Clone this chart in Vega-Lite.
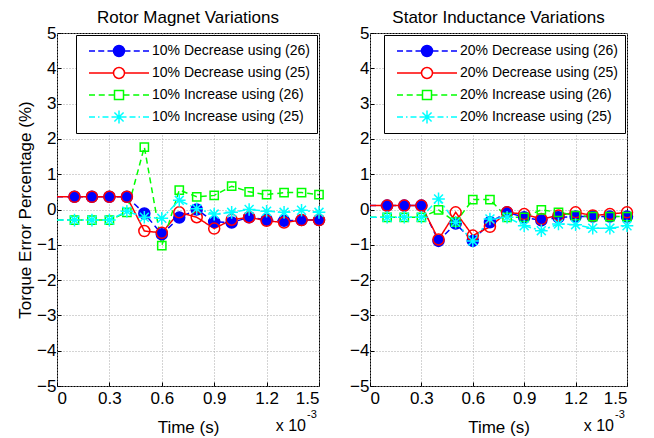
{
  "$schema": "https://vega.github.io/schema/vega-lite/v6.json",
  "background": "white",
  "padding": {"left": 16, "top": 8, "right": 5, "bottom": 0},
  "spacing": 20,
  "config": {
    "font": "Liberation Sans",
    "view": {"stroke": "black", "strokeWidth": 1},
    "axis": {
      "domain": false,
      "tickColor": "black",
      "tickSize": -4,
      "labelOverlap": false,
      "labelFont": "Liberation Sans",
      "labelFontSize": 17,
      "labelColor": "black",
      "titleFont": "Liberation Sans",
      "titleFontSize": 17,
      "titleFontWeight": "normal",
      "titleColor": "black",
      "gridColor": "#a8a8a8",
      "gridDash": [1, 2],
      "gridWidth": 1
    },
    "axisX": {"labelPadding": 8.5, "titlePadding": 13},
    "axisY": {"labelPadding": 5, "titlePadding": 2},
    "title": {"font": "Liberation Sans", "fontSize": 17, "fontWeight": "normal", "color": "black", "offset": -3, "frame": "group"},
    "legend": {
      "orient": "top-right",
      "offset": 2,
      "fillColor": "white",
      "strokeColor": "black",
      "padding": 7,
      "clipHeight": 18,
      "rowPadding": 4,
      "symbolOffset": 5,
      "labelOffset": 2,
      "labelFont": "Liberation Sans",
      "labelFontSize": 14,
      "labelColor": "black",
      "labelLimit": 400,
      "symbolStrokeWidth": 1.5,
      "symbolSize": 3600
    }
  },
  "datasets": {
    "left": [
      {"s":"10% Decrease using (26)","t":0,"v":0.36},{"s":"10% Decrease using (26)","t":0.1,"v":0.36},{"s":"10% Decrease using (26)","t":0.2,"v":0.36},{"s":"10% Decrease using (26)","t":0.3,"v":0.36},{"s":"10% Decrease using (26)","t":0.4,"v":0.36},{"s":"10% Decrease using (26)","t":0.5,"v":-0.11},{"s":"10% Decrease using (26)","t":0.6,"v":-0.70},{"s":"10% Decrease using (26)","t":0.7,"v":-0.23},{"s":"10% Decrease using (26)","t":0.8,"v":0.0},{"s":"10% Decrease using (26)","t":0.9,"v":-0.35},{"s":"10% Decrease using (26)","t":1.0,"v":-0.37},{"s":"10% Decrease using (26)","t":1.1,"v":-0.22},{"s":"10% Decrease using (26)","t":1.2,"v":-0.29},{"s":"10% Decrease using (26)","t":1.3,"v":-0.32},{"s":"10% Decrease using (26)","t":1.4,"v":-0.30},{"s":"10% Decrease using (26)","t":1.5,"v":-0.30},
      {"s":"10% Decrease using (25)","t":0,"v":0.36},{"s":"10% Decrease using (25)","t":0.1,"v":0.36},{"s":"10% Decrease using (25)","t":0.2,"v":0.36},{"s":"10% Decrease using (25)","t":0.3,"v":0.36},{"s":"10% Decrease using (25)","t":0.4,"v":0.36},{"s":"10% Decrease using (25)","t":0.5,"v":-0.61},{"s":"10% Decrease using (25)","t":0.6,"v":-0.66},{"s":"10% Decrease using (25)","t":0.7,"v":-0.08},{"s":"10% Decrease using (25)","t":0.8,"v":-0.22},{"s":"10% Decrease using (25)","t":0.9,"v":-0.54},{"s":"10% Decrease using (25)","t":1.0,"v":-0.29},{"s":"10% Decrease using (25)","t":1.1,"v":-0.22},{"s":"10% Decrease using (25)","t":1.2,"v":-0.32},{"s":"10% Decrease using (25)","t":1.3,"v":-0.37},{"s":"10% Decrease using (25)","t":1.4,"v":-0.30},{"s":"10% Decrease using (25)","t":1.5,"v":-0.30},
      {"s":"10% Increase using (26)","t":0,"v":-0.30},{"s":"10% Increase using (26)","t":0.1,"v":-0.30},{"s":"10% Increase using (26)","t":0.2,"v":-0.30},{"s":"10% Increase using (26)","t":0.3,"v":-0.30},{"s":"10% Increase using (26)","t":0.4,"v":-0.08},{"s":"10% Increase using (26)","t":0.5,"v":1.77},{"s":"10% Increase using (26)","t":0.6,"v":-1.02},{"s":"10% Increase using (26)","t":0.7,"v":0.55},{"s":"10% Increase using (26)","t":0.8,"v":0.36},{"s":"10% Increase using (26)","t":0.9,"v":0.40},{"s":"10% Increase using (26)","t":1.0,"v":0.66},{"s":"10% Increase using (26)","t":1.1,"v":0.50},{"s":"10% Increase using (26)","t":1.2,"v":0.42},{"s":"10% Increase using (26)","t":1.3,"v":0.48},{"s":"10% Increase using (26)","t":1.4,"v":0.48},{"s":"10% Increase using (26)","t":1.5,"v":0.42},
      {"s":"10% Increase using (25)","t":0,"v":-0.30},{"s":"10% Increase using (25)","t":0.1,"v":-0.30},{"s":"10% Increase using (25)","t":0.2,"v":-0.30},{"s":"10% Increase using (25)","t":0.3,"v":-0.30},{"s":"10% Increase using (25)","t":0.4,"v":-0.05},{"s":"10% Increase using (25)","t":0.5,"v":-0.22},{"s":"10% Increase using (25)","t":0.6,"v":-0.25},{"s":"10% Increase using (25)","t":0.7,"v":0.26},{"s":"10% Increase using (25)","t":0.8,"v":0.02},{"s":"10% Increase using (25)","t":0.9,"v":-0.13},{"s":"10% Increase using (25)","t":1.0,"v":-0.08},{"s":"10% Increase using (25)","t":1.1,"v":0.0},{"s":"10% Increase using (25)","t":1.2,"v":-0.05},{"s":"10% Increase using (25)","t":1.3,"v":-0.08},{"s":"10% Increase using (25)","t":1.4,"v":-0.02},{"s":"10% Increase using (25)","t":1.5,"v":-0.08}
    ],
    "right": [
      {"s":"20% Decrease using (26)","t":0,"v":0.11},{"s":"20% Decrease using (26)","t":0.1,"v":0.11},{"s":"20% Decrease using (26)","t":0.2,"v":0.11},{"s":"20% Decrease using (26)","t":0.3,"v":0.11},{"s":"20% Decrease using (26)","t":0.4,"v":-0.89},{"s":"20% Decrease using (26)","t":0.5,"v":-0.40},{"s":"20% Decrease using (26)","t":0.6,"v":-0.89},{"s":"20% Decrease using (26)","t":0.7,"v":-0.36},{"s":"20% Decrease using (26)","t":0.8,"v":-0.08},{"s":"20% Decrease using (26)","t":0.9,"v":-0.22},{"s":"20% Decrease using (26)","t":1.0,"v":-0.31},{"s":"20% Decrease using (26)","t":1.1,"v":-0.22},{"s":"20% Decrease using (26)","t":1.2,"v":-0.20},{"s":"20% Decrease using (26)","t":1.3,"v":-0.20},{"s":"20% Decrease using (26)","t":1.4,"v":-0.20},{"s":"20% Decrease using (26)","t":1.5,"v":-0.20},
      {"s":"20% Decrease using (25)","t":0,"v":0.11},{"s":"20% Decrease using (25)","t":0.1,"v":0.11},{"s":"20% Decrease using (25)","t":0.2,"v":0.11},{"s":"20% Decrease using (25)","t":0.3,"v":0.11},{"s":"20% Decrease using (25)","t":0.4,"v":-0.85},{"s":"20% Decrease using (25)","t":0.5,"v":-0.08},{"s":"20% Decrease using (25)","t":0.6,"v":-0.74},{"s":"20% Decrease using (25)","t":0.7,"v":-0.49},{"s":"20% Decrease using (25)","t":0.8,"v":-0.08},{"s":"20% Decrease using (25)","t":0.9,"v":-0.13},{"s":"20% Decrease using (25)","t":1.0,"v":-0.27},{"s":"20% Decrease using (25)","t":1.1,"v":-0.17},{"s":"20% Decrease using (25)","t":1.2,"v":-0.08},{"s":"20% Decrease using (25)","t":1.3,"v":-0.17},{"s":"20% Decrease using (25)","t":1.4,"v":-0.13},{"s":"20% Decrease using (25)","t":1.5,"v":-0.08},
      {"s":"20% Increase using (26)","t":0,"v":-0.22},{"s":"20% Increase using (26)","t":0.1,"v":-0.22},{"s":"20% Increase using (26)","t":0.2,"v":-0.22},{"s":"20% Increase using (26)","t":0.3,"v":-0.22},{"s":"20% Increase using (26)","t":0.4,"v":-0.01},{"s":"20% Increase using (26)","t":0.5,"v":-0.36},{"s":"20% Increase using (26)","t":0.6,"v":0.28},{"s":"20% Increase using (26)","t":0.7,"v":0.28},{"s":"20% Increase using (26)","t":0.8,"v":-0.22},{"s":"20% Increase using (26)","t":0.9,"v":-0.22},{"s":"20% Increase using (26)","t":1.0,"v":-0.01},{"s":"20% Increase using (26)","t":1.1,"v":-0.08},{"s":"20% Increase using (26)","t":1.2,"v":-0.17},{"s":"20% Increase using (26)","t":1.3,"v":-0.20},{"s":"20% Increase using (26)","t":1.4,"v":-0.20},{"s":"20% Increase using (26)","t":1.5,"v":-0.20},
      {"s":"20% Increase using (25)","t":0,"v":-0.22},{"s":"20% Increase using (25)","t":0.1,"v":-0.22},{"s":"20% Increase using (25)","t":0.2,"v":-0.22},{"s":"20% Increase using (25)","t":0.3,"v":-0.22},{"s":"20% Increase using (25)","t":0.4,"v":0.30},{"s":"20% Increase using (25)","t":0.5,"v":-0.36},{"s":"20% Increase using (25)","t":0.6,"v":-0.89},{"s":"20% Increase using (25)","t":0.7,"v":-0.27},{"s":"20% Increase using (25)","t":0.8,"v":-0.22},{"s":"20% Increase using (25)","t":0.9,"v":-0.46},{"s":"20% Increase using (25)","t":1.0,"v":-0.60},{"s":"20% Increase using (25)","t":1.1,"v":-0.41},{"s":"20% Increase using (25)","t":1.2,"v":-0.43},{"s":"20% Increase using (25)","t":1.3,"v":-0.53},{"s":"20% Increase using (25)","t":1.4,"v":-0.53},{"s":"20% Increase using (25)","t":1.5,"v":-0.46}
    ]
  },
  "hconcat": [
    {
      "width": 262,
      "height": 353,
      "title": "Rotor Magnet Variations",
      "data": {"name": "left"},
      "resolve": {"scale": {"stroke": "independent", "fill": "independent", "shape": "independent", "strokeDash": "independent"}},
      "layer": [
        {
          "mark": {"type": "line", "strokeWidth": 1.5},
          "encoding": {
            "x": {"field": "t", "type": "quantitative", "scale": {"domain": [0, 1.5], "nice": false}, "axis": {"title": "Time (s)", "values": [0, 0.3, 0.6, 0.9, 1.2, 1.5], "format": "~g"}},
            "y": {"field": "v", "type": "quantitative", "scale": {"domain": [-5, 5], "nice": false}, "axis": {"title": "Torque Error Percentage (%)", "values": [-5, -4, -3, -2, -1, 0, 1, 2, 3, 4, 5], "tickCount": 20, "format": "d"}},
            "stroke": {"field": "s", "type": "nominal", "legend": null,
              "scale": {"domain": ["10% Decrease using (26)", "10% Decrease using (25)", "10% Increase using (26)", "10% Increase using (25)"], "range": ["#0000ff", "#ff0000", "#00ff00", "#00ffff"]}},
            "strokeDash": {"field": "s", "type": "nominal", "legend": null,
              "scale": {"domain": ["10% Decrease using (26)", "10% Decrease using (25)", "10% Increase using (26)", "10% Increase using (25)"], "range": [[6, 4], [1, 0], [6, 4], [7, 3, 2, 3]]}}
          }
        },
        {
          "transform": [{"filter": "datum.t > 0"}],
          "mark": {"type": "point", "size": 121, "strokeWidth": 1.5, "opacity": 1},
          "encoding": {
            "x": {"field": "t", "type": "quantitative"},
            "y": {"field": "v", "type": "quantitative"},
            "stroke": {"field": "s", "type": "nominal", "legend": null,
              "scale": {"domain": ["10% Decrease using (26)", "10% Decrease using (25)", "10% Increase using (26)", "10% Increase using (25)"], "range": ["#0000ff", "#ff0000", "#00ff00", "#00ffff"]}},
            "fill": {"field": "s", "type": "nominal", "legend": null,
              "scale": {"domain": ["10% Decrease using (26)", "10% Decrease using (25)", "10% Increase using (26)", "10% Increase using (25)"], "range": ["#0000ff", "transparent", "transparent", "transparent"]}},
            "shape": {"field": "s", "type": "nominal", "legend": null,
              "scale": {"domain": ["10% Decrease using (26)", "10% Decrease using (25)", "10% Increase using (26)", "10% Increase using (25)"], "range": ["circle", "circle", "M-0.75,-0.75H0.75V0.75H-0.75Z", "M0,-1.15V1.15M-1.15,0H1.15M-0.81,-0.81L0.81,0.81M-0.81,0.81L0.81,-0.81"]}}
          }
        },
        {
          "transform": [{"filter": "datum.t < 0"}],
          "mark": {"type": "point", "strokeWidth": 1.5, "opacity": 1},
          "encoding": {
            "x": {"field": "t", "type": "quantitative"},
            "y": {"field": "v", "type": "quantitative"},
            "stroke": {"field": "s", "type": "nominal", "legend": {"title": null},
              "scale": {"domain": ["10% Decrease using (26)", "10% Decrease using (25)", "10% Increase using (26)", "10% Increase using (25)"], "range": ["#0000ff", "#ff0000", "#00ff00", "#00ffff"]}},
            "fill": {"field": "s", "type": "nominal", "legend": {"title": null},
              "scale": {"domain": ["10% Decrease using (26)", "10% Decrease using (25)", "10% Increase using (26)", "10% Increase using (25)"], "range": ["#0000ff", "transparent", "transparent", "transparent"]}},
            "shape": {"field": "s", "type": "nominal", "legend": {"title": null},
              "scale": {"domain": ["10% Decrease using (26)", "10% Decrease using (25)", "10% Increase using (26)", "10% Increase using (25)"], "range": [
                "M-1,0H-0.8M-0.692,0H-0.492M-0.383,0H-0.183M0.183,0H0.383M0.492,0H0.692M0.8,0H1M-0.183,0A0.183,0.183,0,1,0,0.183,0A0.183,0.183,0,1,0,-0.183,0Z",
                "M-1,0H-0.183M0.183,0H1M-0.183,0A0.183,0.183,0,1,0,0.183,0A0.183,0.183,0,1,0,-0.183,0Z",
                "M-1,0H-0.8M-0.675,0H-0.475M-0.35,0H-0.15M0.15,0H0.35M0.475,0H0.675M0.8,0H1M-0.15,-0.15H0.15V0.15H-0.15Z",
                "M-1,0H-0.8M-0.7,0H-0.65M-0.55,0H-0.35M-0.25,0H-0.2M0.2,0H0.25M0.35,0H0.55M0.65,0H0.7M0.8,0H1M0,-0.217V0.217M-0.217,0H0.217M-0.153,-0.153L0.153,0.153M-0.153,0.153L0.153,-0.153"]}}
          }
        },
        {
          "data": {"values": [{}]},
          "mark": {"type": "text", "text": "x 10", "align": "right", "baseline": "alphabetic", "dx": -13, "dy": 45, "fontSize": 16, "font": "Liberation Sans", "fill": "black"},
          "encoding": {"x": {"datum": 1.5, "type": "quantitative"}, "y": {"datum": -5, "type": "quantitative"}}
        },
        {
          "data": {"values": [{}]},
          "mark": {"type": "text", "text": "-3", "align": "left", "baseline": "alphabetic", "dx": -12, "dy": 32, "fontSize": 11, "font": "Liberation Sans", "fill": "black"},
          "encoding": {"x": {"datum": 1.5, "type": "quantitative"}, "y": {"datum": -5, "type": "quantitative"}}
        }
      ]
    },
    {
      "width": 257,
      "height": 353,
      "title": "Stator Inductance Variations",
      "data": {"name": "right"},
      "resolve": {"scale": {"stroke": "independent", "fill": "independent", "shape": "independent", "strokeDash": "independent"}},
      "layer": [
        {
          "mark": {"type": "line", "strokeWidth": 1.5},
          "encoding": {
            "x": {"field": "t", "type": "quantitative", "scale": {"domain": [0, 1.5], "nice": false}, "axis": {"title": "Time (s)", "values": [0, 0.3, 0.6, 0.9, 1.2, 1.5], "format": "~g"}},
            "y": {"field": "v", "type": "quantitative", "scale": {"domain": [-5, 5], "nice": false}, "axis": {"title": null, "values": [-5, -4, -3, -2, -1, 0, 1, 2, 3, 4, 5], "tickCount": 20, "format": "d"}},
            "stroke": {"field": "s", "type": "nominal", "legend": null,
              "scale": {"domain": ["20% Decrease using (26)", "20% Decrease using (25)", "20% Increase using (26)", "20% Increase using (25)"], "range": ["#0000ff", "#ff0000", "#00ff00", "#00ffff"]}},
            "strokeDash": {"field": "s", "type": "nominal", "legend": null,
              "scale": {"domain": ["20% Decrease using (26)", "20% Decrease using (25)", "20% Increase using (26)", "20% Increase using (25)"], "range": [[6, 4], [1, 0], [6, 4], [7, 3, 2, 3]]}}
          }
        },
        {
          "transform": [{"filter": "datum.t > 0"}],
          "mark": {"type": "point", "size": 121, "strokeWidth": 1.5, "opacity": 1},
          "encoding": {
            "x": {"field": "t", "type": "quantitative"},
            "y": {"field": "v", "type": "quantitative"},
            "stroke": {"field": "s", "type": "nominal", "legend": null,
              "scale": {"domain": ["20% Decrease using (26)", "20% Decrease using (25)", "20% Increase using (26)", "20% Increase using (25)"], "range": ["#0000ff", "#ff0000", "#00ff00", "#00ffff"]}},
            "fill": {"field": "s", "type": "nominal", "legend": null,
              "scale": {"domain": ["20% Decrease using (26)", "20% Decrease using (25)", "20% Increase using (26)", "20% Increase using (25)"], "range": ["#0000ff", "transparent", "transparent", "transparent"]}},
            "shape": {"field": "s", "type": "nominal", "legend": null,
              "scale": {"domain": ["20% Decrease using (26)", "20% Decrease using (25)", "20% Increase using (26)", "20% Increase using (25)"], "range": ["circle", "circle", "M-0.75,-0.75H0.75V0.75H-0.75Z", "M0,-1.15V1.15M-1.15,0H1.15M-0.81,-0.81L0.81,0.81M-0.81,0.81L0.81,-0.81"]}}
          }
        },
        {
          "transform": [{"filter": "datum.t < 0"}],
          "mark": {"type": "point", "strokeWidth": 1.5, "opacity": 1},
          "encoding": {
            "x": {"field": "t", "type": "quantitative"},
            "y": {"field": "v", "type": "quantitative"},
            "stroke": {"field": "s", "type": "nominal", "legend": {"title": null},
              "scale": {"domain": ["20% Decrease using (26)", "20% Decrease using (25)", "20% Increase using (26)", "20% Increase using (25)"], "range": ["#0000ff", "#ff0000", "#00ff00", "#00ffff"]}},
            "fill": {"field": "s", "type": "nominal", "legend": {"title": null},
              "scale": {"domain": ["20% Decrease using (26)", "20% Decrease using (25)", "20% Increase using (26)", "20% Increase using (25)"], "range": ["#0000ff", "transparent", "transparent", "transparent"]}},
            "shape": {"field": "s", "type": "nominal", "legend": {"title": null},
              "scale": {"domain": ["20% Decrease using (26)", "20% Decrease using (25)", "20% Increase using (26)", "20% Increase using (25)"], "range": [
                "M-1,0H-0.8M-0.692,0H-0.492M-0.383,0H-0.183M0.183,0H0.383M0.492,0H0.692M0.8,0H1M-0.183,0A0.183,0.183,0,1,0,0.183,0A0.183,0.183,0,1,0,-0.183,0Z",
                "M-1,0H-0.183M0.183,0H1M-0.183,0A0.183,0.183,0,1,0,0.183,0A0.183,0.183,0,1,0,-0.183,0Z",
                "M-1,0H-0.8M-0.675,0H-0.475M-0.35,0H-0.15M0.15,0H0.35M0.475,0H0.675M0.8,0H1M-0.15,-0.15H0.15V0.15H-0.15Z",
                "M-1,0H-0.8M-0.7,0H-0.65M-0.55,0H-0.35M-0.25,0H-0.2M0.2,0H0.25M0.35,0H0.55M0.65,0H0.7M0.8,0H1M0,-0.217V0.217M-0.217,0H0.217M-0.153,-0.153L0.153,0.153M-0.153,0.153L0.153,-0.153"]}}
          }
        },
        {
          "data": {"values": [{}]},
          "mark": {"type": "text", "text": "x 10", "align": "right", "baseline": "alphabetic", "dx": -13, "dy": 45, "fontSize": 16, "font": "Liberation Sans", "fill": "black"},
          "encoding": {"x": {"datum": 1.5, "type": "quantitative"}, "y": {"datum": -5, "type": "quantitative"}}
        },
        {
          "data": {"values": [{}]},
          "mark": {"type": "text", "text": "-3", "align": "left", "baseline": "alphabetic", "dx": -12, "dy": 32, "fontSize": 11, "font": "Liberation Sans", "fill": "black"},
          "encoding": {"x": {"datum": 1.5, "type": "quantitative"}, "y": {"datum": -5, "type": "quantitative"}}
        }
      ]
    }
  ]
}
